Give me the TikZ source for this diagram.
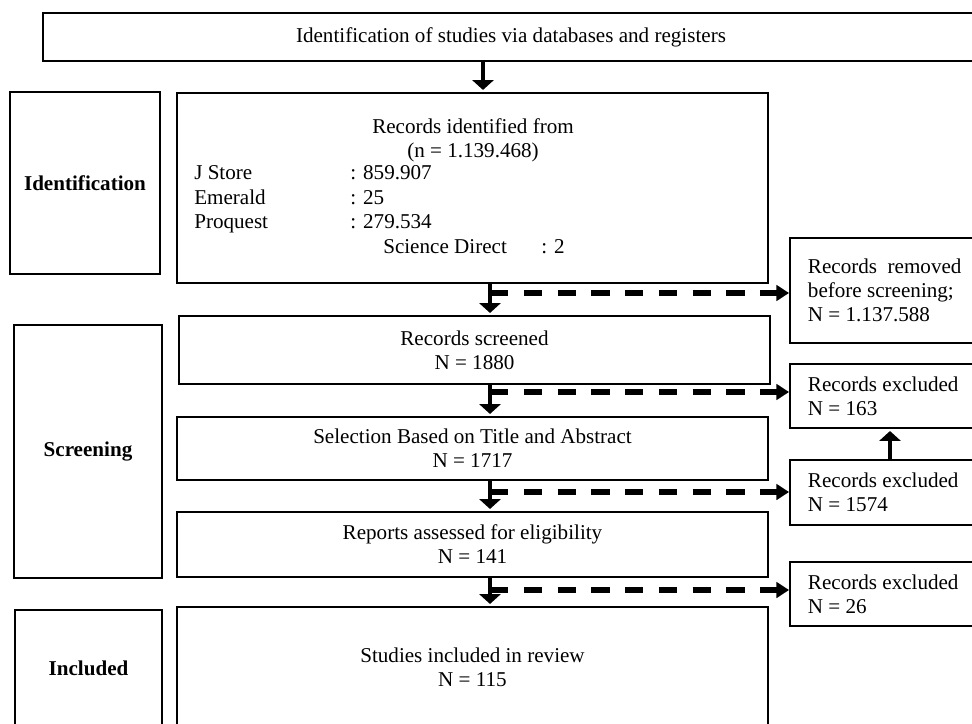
\documentclass[tikz,border=0pt]{standalone}
\usepackage{fontspec}
\setmainfont{Liberation Serif}
\usetikzlibrary{arrows.meta}

\begin{document}
\begin{tikzpicture}[x=0.025cm, y=-0.025cm,
    every node/.style={font=\fontsize{15}{17}\selectfont},
    box/.style={draw, line width=1.3pt, inner sep=0pt, align=center},
    sidebox/.style={box, align=flush left, text width=4.1cm, inner xsep=0.45cm},
    stage/.style={box, font=\fontsize{15}{17}\selectfont\bfseries},
    txt/.style={inner sep=0pt, anchor=mid west},
    flow/.style={line width=2.5pt, shorten >=1.5pt, -{Triangle[length=7pt,width=15pt]}},
    skip/.style={line width=4pt, dash pattern=on 13pt off 11pt, -{Triangle[length=9pt,width=11pt]}}]
            \useasboundingbox (0,0) rectangle (972,723);
            \clip (0,0) rectangle (972,723);

            % Header
            \node[box, minimum width=23.4cm, minimum height=1.2cm] (head) at (511,37) {Identification of studies via databases and registers};

            % Stages
            \node[stage, minimum width=3.75cm, minimum height=4.55cm] (idlab) at (85,183) {Identification};
            \node[stage, minimum width=3.7cm, minimum height=6.325cm] (scrlab) at (88,451.5) {Screening};
            \node[stage, minimum width=3.675cm, minimum height=2.9cm] (inclab) at (88.5,668) {Included};

            % Main column
            \node[box, minimum width=14.775cm, minimum height=4.75cm] (ident) at (472.5,188) {};
            \node[inner sep=0pt, anchor=mid] (idtitle) at (473,130) {Records identified from};
            \node[inner sep=0pt, anchor=mid] (idtotal) at (473,154) {(n = 1.139.468)};
            \node[txt] (jstore) at (194,176) {J Store};
            \node[txt] (jstoren) at (350,176) {: 859.907};
            \node[txt] (emerald) at (194,201) {Emerald};
            \node[txt] (emeraldn) at (350,201) {: 25};
            \node[txt] (proquest) at (194,225) {Proquest};
            \node[txt] (proquestn) at (350,225) {: 279.534};
            \node[txt] (scidir) at (383,250) {Science Direct};
            \node[txt] (scidirn) at (541,250) {: 2};

            \node[box, minimum width=14.775cm, minimum height=1.7cm] (screened) at (474.5,350) {Records screened\\N = 1880};
            \node[box, minimum width=14.775cm, minimum height=1.575cm] (select) at (472.5,448.5) {Selection Based on Title and Abstract\\N = 1717};
            \node[box, minimum width=14.775cm, minimum height=1.625cm] (assessed) at (472.5,544.5) {Reports assessed for eligibility\\N = 141};
            \node[box, minimum width=14.775cm, minimum height=3cm] (included) at (472.5,667) {Studies included in review\\N = 115};

            % Side column
            \node[sidebox, minimum height=2.625cm] (removed) at (890,290.5) {Records\enspace removed\\before screening;\\N = 1.137.588};
            \node[sidebox, minimum height=1.6cm] (excl1) at (890,396) {Records excluded\\N = 163};
            \node[sidebox, minimum height=1.625cm] (excl2) at (890,492.5) {Records excluded\\N = 1574};
            \node[sidebox, minimum height=1.6cm] (excl3) at (890,594) {Records excluded\\N = 26};

            % Arrows
            \coordinate (topx) at (483,0);
            \coordinate (b1) at (490,293);
            \coordinate (b2) at (490,392);
            \coordinate (b3) at (490,492);
            \coordinate (b4) at (490,590);

            \draw[flow] (head.south -| topx) -- (ident.north -| topx);
            \draw[flow] (ident.south -| b1) -- (screened.north -| b1);
            \draw[flow] (screened.south -| b2) -- (select.north -| b2);
            \draw[flow] (select.south -| b3) -- (assessed.north -| b3);
            \draw[flow] (assessed.south -| b4) -- (included.north -| b4);

            \draw[skip] (b1) -- (removed.west |- b1);
            \draw[skip] (b2) -- (excl1.west |- b2);
            \draw[skip] (b3) -- (excl2.west |- b3);
            \draw[skip] (b4) -- (excl3.west |- b4);

            \draw[flow] (excl2.north) -- (excl1.south);
\end{tikzpicture}
\end{document}
